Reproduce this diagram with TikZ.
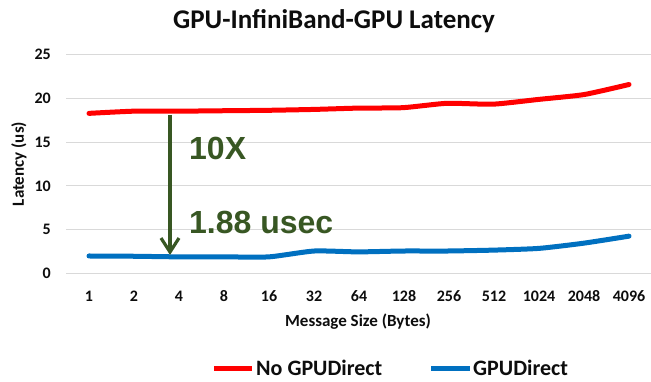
\documentclass[tikz,border=0pt]{standalone}
\usepackage{fontspec}
\setmainfont{Carlito}
\newfontfamily\annotfont{Liberation Sans}
\usetikzlibrary{arrows.meta}
\definecolor{serred}{RGB}{255,0,0}
\definecolor{serblue}{RGB}{0,112,192}
\definecolor{annot}{RGB}{56,87,35}
\definecolor{gridc}{RGB}{217,217,217}
\definecolor{txt}{RGB}{13,13,13}
\begin{document}
\begin{tikzpicture}[x=1pt,y=-1pt,
  gridline/.style={gridc,line width=1.1pt},
  ticklab/.style={font=\bfseries\fontsize{16}{16}\selectfont,text=txt,inner sep=0pt},
  axtitle/.style={font=\bfseries\fontsize{17}{17}\selectfont,text=txt,inner sep=0pt},
  serline/.style={line width=5pt,line cap=round,line join=round},
  legtext/.style={font=\bfseries\fontsize{22}{22}\selectfont,text=txt,inner sep=0pt,anchor=west},
  annottext/.style={font=\annotfont\bfseries\fontsize{32}{32}\selectfont,text=annot,inner sep=0pt,anchor=west}]
\useasboundingbox (0,0) rectangle (651,382);
\fill[white] (0,0) rectangle (651,382);
\def\yof#1{273.3-8.74*#1}
% gridlines and y labels
\foreach \v in {0,5,10,15,20,25}{
  \draw[gridline] (66,{\yof{\v}}) -- (651,{\yof{\v}});
  \node[ticklab,anchor=east] (y\v) at (51,{\yof{\v}}) {\v};
}
% x labels
\foreach \l [count=\i from 0] in {1,2,4,8,16,32,64,128,256,512,1024,2048,4096}{
  \node[ticklab] (x\i) at ({89+45*\i},296) {\l};
}
% titles
\node[font=\bfseries\fontsize{27}{27}\selectfont,text=txt,inner sep=0pt] (title) at (334,21) {GPU-InfiniBand-GPU Latency};
\node[axtitle] (xtitle) at (358,322) {Message Size (Bytes)};
\node[axtitle,rotate=90] (ytitle) at (19,164) {Latency (us)};
% series
\draw[serline,serred] plot[smooth,tension=0.35] coordinates {
  (89,{\yof{18.3}}) (134,{\yof{18.55}}) (179,{\yof{18.55}}) (224,{\yof{18.6}})
  (269,{\yof{18.65}}) (314,{\yof{18.75}}) (358,{\yof{18.9}}) (403,{\yof{18.95}})
  (447,{\yof{19.45}}) (493,{\yof{19.35}}) (539,{\yof{19.9}}) (584,{\yof{20.45}})
  (629,{\yof{21.6}})};
\draw[serline,serblue] plot[smooth,tension=0.35] coordinates {
  (89,{\yof{1.98}}) (134,{\yof{1.95}}) (179,{\yof{1.88}}) (224,{\yof{1.88}})
  (269,{\yof{1.88}}) (314,{\yof{2.55}}) (358,{\yof{2.45}}) (403,{\yof{2.55}})
  (447,{\yof{2.55}}) (493,{\yof{2.65}}) (539,{\yof{2.85}}) (584,{\yof{3.45}})
  (629,{\yof{4.25}})};
% annotation
\coordinate (atop) at (170,115);
\coordinate (abot) at (170,255);
\draw[annot,line width=3.2pt,-{Straight Barb[length=14pt,width=18pt,line width=3.2pt]}] (atop) -- (abot);
\node[annottext] (tenx) at (189,148) {10X};
\node[annottext] (usec) at (189,222) {1.88 usec};
% legend
\coordinate (lr1) at (214,368); \coordinate (lr2) at (252,368);
\draw[serline,serred,line cap=butt] (lr1) -- (lr2);
\node[legtext] (lgred) at (256,368) {No GPUDirect};
\coordinate (lb1) at (431,368); \coordinate (lb2) at (470,368);
\draw[serline,serblue,line cap=butt] (lb1) -- (lb2);
\node[legtext] (lgblue) at (473,368) {GPUDirect};
\end{tikzpicture}
\end{document}
